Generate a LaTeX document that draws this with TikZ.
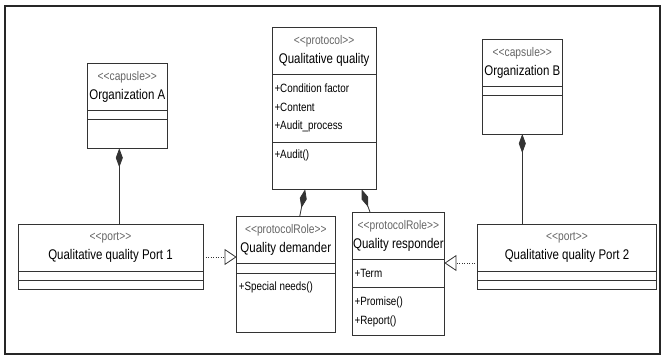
\documentclass[tikz,border=0pt]{standalone}
\usepackage{fontspec}
\setmainfont{Liberation Sans}[FakeStretch=0.82]
\usepackage{tikz}
\usetikzlibrary{arrows.meta,positioning}
\newcommand{\stereo}[1]{{\fontsize{12.5}{19}\selectfont\color{black!60}<\kern0pt<#1>\kern0pt>}}

\begin{document}
\begin{tikzpicture}[
    x=1pt, y=-1pt,
    box/.style={draw=black!80, line width=0.8pt, fill=white, inner sep=0pt, outer sep=0pt},
    classhead/.style={box, minimum height=47pt, align=center, font=\fontsize{14}{19}\selectfont},
    member/.style={anchor=west, inner sep=0pt, font=\fontsize{12}{13}\selectfont},
    compose/.style={draw=black!80, line width=0.8pt, {Diamond[length=19pt,width=7pt]}-},
    realize/.style={draw=black!80, line width=0.8pt, dash pattern=on 1pt off 1.5pt, -{Triangle[open, length=12pt, width=16pt, fill=white]}},
]
\useasboundingbox (0,0) rectangle (665,359);

% Frame
\draw[line width=2.5pt, draw=black!85] (5,6) rectangle (660,354);

% Organization A
\node[classhead, minimum width=80pt, anchor=north west] (orgA) at (87.3,63.3) {\stereo{capusle}\\Organization A};
\node[box, minimum width=80pt, minimum height=9pt, below=0pt of orgA] (orgAattr) {};
\node[box, minimum width=80pt, minimum height=29pt, below=0pt of orgAattr] (orgAops) {};

% Protocol
\node[classhead, minimum width=103.7pt, anchor=north west] (proto) at (272.3,27.3) {\stereo{protocol}\\Qualitative quality};
\node[box, minimum width=103.7pt, minimum height=68pt, below=0pt of proto] (protoAttr) {};
\node[box, minimum width=103.7pt, minimum height=47pt, below=0pt of protoAttr] (protoOps) {};
\node[member] at ([xshift=2pt,yshift=-14pt]protoAttr.north west) {+Condition factor};
\node[member] at ([xshift=2pt,yshift=-33pt]protoAttr.north west) {+Content};
\node[member] at ([xshift=2pt,yshift=-52pt]protoAttr.north west) {+Audit\_process};
\node[member] at ([xshift=2pt,yshift=-13.5pt]protoOps.north west) {+Audit()};

% Organization B
\node[classhead, minimum width=80pt, anchor=north west] (orgB) at (482.3,39) {\stereo{capsule}\\Organization B};
\node[box, minimum width=80pt, minimum height=9pt, below=0pt of orgB] (orgBattr) {};
\node[box, minimum width=80pt, minimum height=39pt, below=0pt of orgBattr] (orgBops) {};

% Ports
\node[classhead, minimum width=185pt, anchor=north west] (port1) at (18,224) {\stereo{port}\\Qualitative quality Port 1};
\node[box, minimum width=185pt, minimum height=9pt, below=0pt of port1] (port1attr) {};
\node[box, minimum width=185pt, minimum height=9pt, below=0pt of port1attr] (port1ops) {};

\node[classhead, minimum width=179pt, anchor=north west] (port2) at (477.5,224) {\stereo{port}\\Qualitative quality Port 2};
\node[box, minimum width=179pt, minimum height=9pt, below=0pt of port2] (port2attr) {};
\node[box, minimum width=179pt, minimum height=9pt, below=0pt of port2attr] (port2ops) {};

% Protocol roles
\node[classhead, minimum width=98.4pt, anchor=north west] (demand) at (236.6,216) {\stereo{protocolRole}\\Quality demander};
\node[box, minimum width=98.4pt, minimum height=10pt, below=0pt of demand] (demandAttr) {};
\node[box, minimum width=98.4pt, minimum height=59pt, below=0pt of demandAttr] (demandOps) {};
\node[member] at ([xshift=2pt,yshift=-14pt]demandOps.north west) {+Special needs()};

\node[classhead, minimum width=92pt, anchor=north west] (respond) at (352.4,212) {\stereo{protocolRole}\\Quality responder};
\node[box, minimum width=92pt, minimum height=28pt, below=0pt of respond] (respondAttr) {};
\node[box, minimum width=92pt, minimum height=48pt, below=0pt of respondAttr] (respondOps) {};
\node[member] at ([xshift=2pt,yshift=-14pt]respondAttr.north west) {+Term};
\node[member] at ([xshift=2pt,yshift=-15pt]respondOps.north west) {+Promise()};
\node[member] at ([xshift=2pt,yshift=-34pt]respondOps.north west) {+Report()};

% Compositions
\draw[compose] ([xshift=-8pt]orgAops.south) -- ([xshift=-8pt]orgAops.south |- port1.north);
\draw[compose] (orgBops.south) -- (orgBops.south |- port2.north);
\draw[compose] ([xshift=-19pt]protoOps.south) -- ([xshift=14pt]demand.north);
\draw[compose] ([xshift=37.5pt]protoOps.south) -- ([xshift=-28.4pt]respond.north);

% Realizations
\draw[realize] ([yshift=-9.5pt]port1.east) -- ([yshift=-9.5pt]port1.east -| demand.west);
\draw[realize] ([yshift=-15.5pt]port2.west) -- ([yshift=-15.5pt]port2.west -| respond.east);

\end{tikzpicture}
\end{document}
